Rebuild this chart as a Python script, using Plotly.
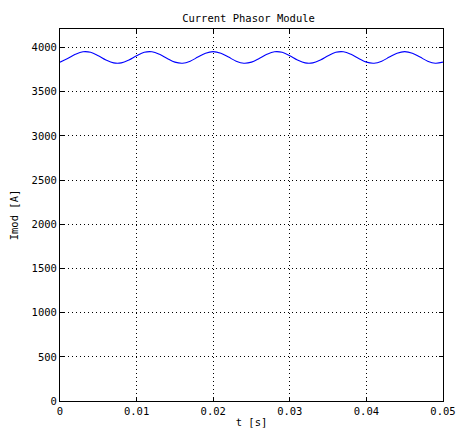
import plotly.graph_objects as go

# Sample times [s] and current phasor magnitude [A]
t = [i * 0.001 for i in range(51)]
imod = [
    3835, 3876, 3923, 3952, 3946, 3908, 3860, 3827, 3827, 3860,
    3908, 3946, 3952, 3923, 3876, 3835, 3823, 3846, 3892, 3936,
    3954, 3936, 3892, 3846, 3823, 3835, 3876, 3923, 3952, 3946,
    3908, 3860, 3827, 3827, 3860, 3908, 3946, 3952, 3923, 3876,
    3835, 3823, 3846, 3892, 3936, 3954, 3936, 3892, 3846, 3823,
    3835,
]

x_ticks = [0, 0.01, 0.02, 0.03, 0.04, 0.05]
x_tick_text = ["0", "0.01", "0.02", "0.03", "0.04", "0.05"]
y_ticks = [0, 500, 1000, 1500, 2000, 2500, 3000, 3500, 4000]

font = dict(family="DejaVu Sans Mono", size=10.5, color="black")

fig = go.Figure(
    go.Scatter(
        x=t, y=imod, mode="lines",
        line=dict(color="#0000ff", width=1.1, shape="spline", smoothing=1.0),
        hoverinfo="skip",
    )
)

axis_common = dict(
    showline=True, linecolor="black", linewidth=1, mirror="ticks",
    ticks="inside", ticklen=4, tickcolor="black",
    showgrid=True, gridcolor="black", gridwidth=1, griddash="1px,3px",
    zeroline=False, tickfont=font, automargin=False,
)

fig.update_xaxes(
    range=[0, 0.05], tickvals=x_ticks, ticktext=x_tick_text,
    title=dict(text="t [s]", font=font, standoff=3), **axis_common,
)
fig.update_yaxes(
    range=[0, 4210], tickvals=y_ticks,
    title=dict(text="Imod [A]", font=font, standoff=10), **axis_common,
)

fig.update_layout(
    width=456, height=437,
    margin=dict(l=60, r=13, t=29, b=36),
    paper_bgcolor="white", plot_bgcolor="white",
    showlegend=False,
    title=dict(text="Current Phasor Module", font=font,
               x=0.545, xanchor="center", y=0.958, yanchor="middle"),
)

fig.write_html("out.html")
